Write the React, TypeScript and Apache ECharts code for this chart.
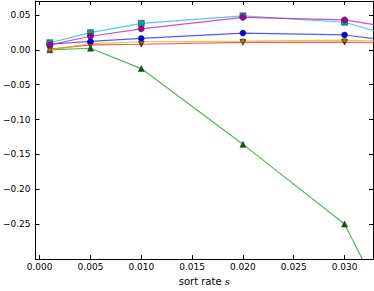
import React, { useEffect, useRef } from "react";
import * as echarts from "echarts";

const xValues = [0.001, 0.005, 0.01, 0.02, 0.03, 0.04];
const cyanSeries = [0.0102, 0.0246, 0.038, 0.0488, 0.0395, -0.002];
const magentaSeries = [0.007, 0.0195, 0.030, 0.0464, 0.043, 0.019];
const blueSeries = [0.008, 0.012, 0.0163, 0.024, 0.0213, 0.003];
const yellowSeries = [0.0, 0.0088, 0.0116, 0.0125, 0.0139, 0.0089];
const redSeries = [0.001, 0.007, 0.008, 0.0107, 0.011, 0.0081];
const greenSeries = [0.0, 0.0023, -0.0269, -0.1355, -0.2497, -0.537];
const xTicks = [0, 0.005, 0.01, 0.015, 0.02, 0.025, 0.03];

const FONT = "DejaVu Sans";

function fmtY(v: number) {
  return v.toFixed(2).replace("-", "\u2212");
}

export default function App() {
  const ref = useRef<HTMLDivElement>(null);
  useEffect(() => {
    if (!ref.current) return;
    const chart = echarts.init(ref.current, undefined, { renderer: "svg" });
    const mk = (
      name: string,
      data: number[],
      line: string,
      face: string,
      symbol: string,
      size: number,
      rotate = 0
    ) => ({
      name,
      type: "line",
      data: xValues.map((x, i) => [x, data[i]]),
      symbol,
      symbolSize: size,
      symbolRotate: rotate,
      showAllSymbol: true,
      clip: true,
      lineStyle: { color: line, width: 1.2, opacity: 0.75 },
      itemStyle: { color: face, borderColor: "#222", borderWidth: 0.5 },
      emphasis: { disabled: true },
    });
    chart.setOption({
      animation: false,
      grid: { left: 32, right: 1, top: 1, bottom: 25, containLabel: false },
      xAxis: [
        {
          type: "value",
          min: -0.0004,
          max: 0.0328,
          position: "bottom",
          name: "sort rate {i|s}",
          nameLocation: "middle",
          nameGap: 13,
          nameTextStyle: {
            fontFamily: FONT,
            fontSize: 10,
            color: "#000",
            rich: { i: { fontFamily: "DejaVu Serif", fontStyle: "italic", fontSize: 10, color: "#000" } },
          },
          axisLine: { show: true, onZero: false, lineStyle: { color: "#000", width: 1 } },
          axisTick: { show: true, inside: true, length: 4, customValues: xTicks, lineStyle: { color: "#000" } },
          axisLabel: {
            show: true,
            customValues: xTicks,
            formatter: (v: number) => v.toFixed(3),
            fontFamily: FONT,
            fontSize: 9,
            color: "#000",
            margin: 3,
          },
          splitLine: { show: false },
        },
        {
          type: "value",
          min: -0.0004,
          max: 0.0328,
          position: "top",
          axisLine: { show: true, onZero: false, lineStyle: { color: "#000", width: 1 } },
          axisTick: { show: true, inside: true, length: 4, customValues: xTicks, lineStyle: { color: "#000" } },
          axisLabel: { show: false },
          splitLine: { show: false },
        },
      ],
      yAxis: [
        {
          type: "value",
          min: -0.3,
          max: 0.07,
          interval: 0.05,
          position: "left",
          axisLine: { show: true, onZero: false, lineStyle: { color: "#000", width: 1 } },
          axisTick: { show: true, inside: true, length: 4, lineStyle: { color: "#000" } },
          axisLabel: {
            show: true,
            showMinLabel: false,
            showMaxLabel: false,
            formatter: fmtY,
            fontFamily: FONT,
            fontSize: 9,
            color: "#000",
            margin: 5,
          },
          splitLine: { show: false },
        },
        {
          type: "value",
          min: -0.3,
          max: 0.07,
          interval: 0.05,
          position: "right",
          axisLine: { show: true, onZero: false, lineStyle: { color: "#000", width: 1 } },
          axisTick: { show: true, inside: true, length: 4, lineStyle: { color: "#000" } },
          axisLabel: { show: false },
          splitLine: { show: false },
        },
      ],
      series: [
        mk("green", greenSeries, "#229922", "#006400", "triangle", 6),
        mk("red", redSeries, "#ff2020", "#cc0000", "triangle", 6, 180),
        mk("yellow", yellowSeries, "#c8c000", "#9a9000", "diamond", 5),
        mk("blue", blueSeries, "#2020ff", "#0000ee", "circle", 6),
        mk("cyan", cyanSeries, "#10c0c0", "#169a9a", "rect", 6),
        mk("magenta", magentaSeries, "#c010c0", "#a000a0", "circle", 6),
      ],
    });
    return () => chart.dispose();
  }, []);
  return (
    <div
      ref={ref}
      style={{ position: "fixed", left: 0, top: 0, width: 374, height: 291, background: "#fff" }}
    />
  );
}
